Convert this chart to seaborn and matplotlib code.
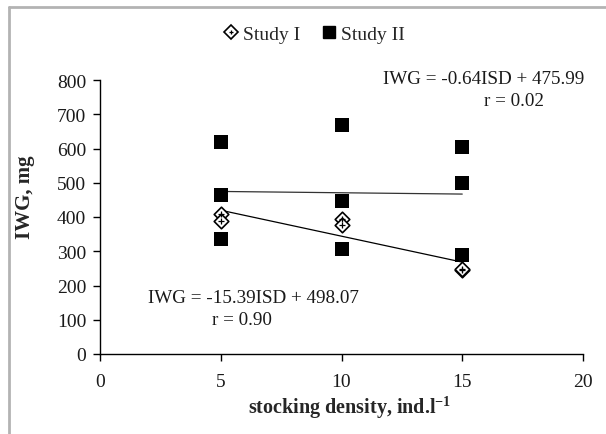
import matplotlib
matplotlib.use("Agg")
import matplotlib.pyplot as plt
from matplotlib.lines import Line2D
import seaborn as sns
import pandas as pd

# ---- data ----
study1_density = [5, 5, 10, 10, 15, 15]
study1_iwg = [410, 388, 395, 376, 246, 249]
study2_density = [5, 5, 5, 10, 10, 10, 15, 15, 15]
study2_iwg = [618, 464, 336, 669, 448, 307, 605, 500, 290]
eq_study1 = "IWG = -15.39ISD + 498.07"
r_study1 = "r = 0.90"
eq_study2 = "IWG = -0.64ISD + 475.99"
r_study2 = "r = 0.02"
x_ticks = [0, 5, 10, 15, 20]
y_ticks = [0, 100, 200, 300, 400, 500, 600, 700, 800]

df1 = pd.DataFrame({"density": study1_density, "iwg": study1_iwg})
df2 = pd.DataFrame({"density": study2_density, "iwg": study2_iwg})

sns.set_style("white")
plt.rcParams["font.family"] = ["Liberation Serif", "DejaVu Serif"]
plt.rcParams["mathtext.fontset"] = "custom"
plt.rcParams["mathtext.rm"] = "Liberation Serif"
plt.rcParams["mathtext.bf"] = "Liberation Serif:bold"

fig = plt.figure(figsize=(6.06, 4.35), dpi=100)
ax = fig.add_axes([100 / 606, 80 / 435, 483 / 606, 274 / 435])

# trend lines
sns.regplot(data=df1, x="density", y="iwg", scatter=False, ci=None, truncate=True,
            line_kws=dict(color="black", lw=0.9, zorder=2), ax=ax)
sns.regplot(data=df2, x="density", y="iwg", scatter=False, ci=None, truncate=True,
            line_kws=dict(color="#333333", lw=0.9, zorder=2), ax=ax)

# points
sns.scatterplot(data=df2, x="density", y="iwg", marker="s", s=100, color="black",
                edgecolor="black", linewidth=0, zorder=3, ax=ax, legend=False)
sns.scatterplot(data=df1, x="density", y="iwg", marker="D", s=55, color="white",
                edgecolor="black", linewidth=1.2, zorder=4, ax=ax, legend=False)
sns.scatterplot(data=df1, x="density", y="iwg", marker="+", s=14, color="black",
                linewidth=0.9, zorder=5, ax=ax, legend=False)

ax.set_xlim(0, 20)
ax.set_ylim(0, 800)
ax.set_xticks(x_ticks)
ax.set_yticks(y_ticks)
ax.tick_params(axis="both", which="major", direction="out", length=5, width=1,
               color="black", labelsize=14, labelcolor="#1a1a1a", left=True, bottom=True)
ax.tick_params(axis="x", pad=9)
ax.tick_params(axis="y", pad=5)
for side in ["top", "right"]:
    ax.spines[side].set_visible(False)
for side in ["left", "bottom"]:
    ax.spines[side].set_color("black")
    ax.spines[side].set_linewidth(1)

ax.set_xlabel(r"stocking density, ind.l$^{\mathbf{-1}}$", fontsize=14.5, fontweight="bold")
ax.set_ylabel("IWG, mg", fontsize=15, fontweight="bold")
ax.xaxis.set_label_coords(0.516, -0.193)
ax.yaxis.set_label_coords(-0.155, 0.577)
ax.xaxis.label.set_va("center")
ax.yaxis.label.set_va("center")

# equations
ax.text(11.72, 803, eq_study2, fontsize=13.8, va="center", ha="left", color="#1a1a1a")
ax.text(15.9, 739, r_study2, fontsize=13.8, va="center", ha="left", color="#1a1a1a")
ax.text(1.99, 166, eq_study1, fontsize=13.8, va="center", ha="left", color="#1a1a1a")
ax.text(4.64, 102, r_study1, fontsize=13.8, va="center", ha="left", color="#1a1a1a")

# legend
handles = [
    (Line2D([], [], marker="D", linestyle="none", markersize=7, markerfacecolor="white",
            markeredgecolor="black", markeredgewidth=1.2),
     Line2D([], [], marker="+", linestyle="none", markersize=3.5, color="black",
            markeredgewidth=0.9)),
    Line2D([], [], marker="s", linestyle="none", markersize=8.5, markerfacecolor="black",
           markeredgecolor="black"),
]
fig.legend(handles=handles, labels=["Study I", "Study II"], loc="center",
           bbox_to_anchor=(0.517, 0.92), ncol=2, frameon=False, fontsize=14,
           handletextpad=0.1, columnspacing=1.0, handlelength=1.0)

# chart-area border (top and left visible in the crop)
border = dict(color="#b3b3b3", lw=2, transform=fig.transFigure)
fig.add_artist(Line2D([8.5 / 606, 1], [1 - 7.5 / 435, 1 - 7.5 / 435], **border))
fig.add_artist(Line2D([8.5 / 606, 8.5 / 606], [0, 1 - 7.5 / 435], **border))

fig.savefig("out.png", dpi=100)
